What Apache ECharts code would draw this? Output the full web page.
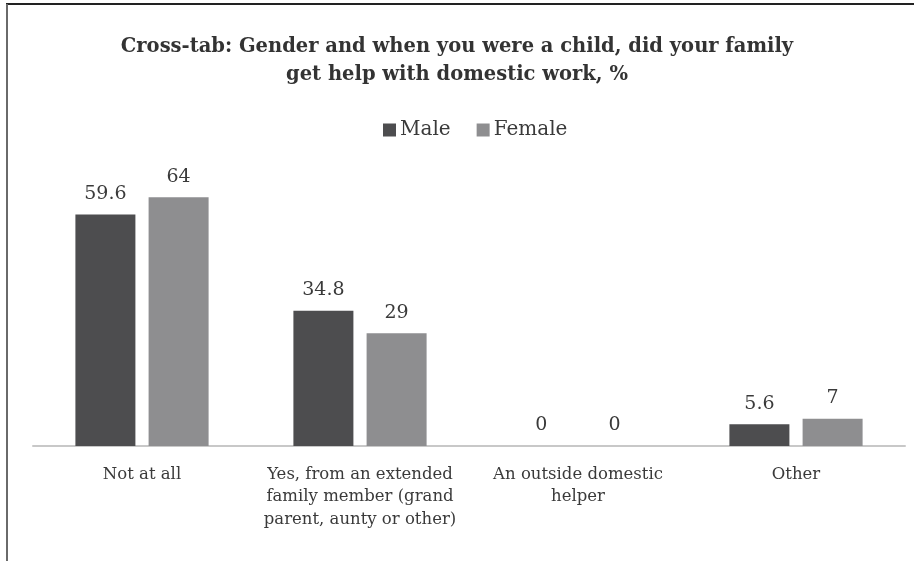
<!DOCTYPE html>
<html>
<head>
<meta charset="utf-8">
<script src="https://cdn.jsdelivr.net/npm/echarts@6/dist/echarts.min.js"></script>
<style>
  html, body { margin: 0; padding: 0; background: #ffffff; }
  #chart { width: 914px; height: 561px; }
</style>
</head>
<body>
<div id="chart"></div>
<script>
// Survey answers, one per category on the x axis
const categories = [
  'Not at all',
  'Yes, from an extended\nfamily member (grand\nparent, aunty or other)',
  'An outside domestic\nhelper',
  'Other'
];
// Percent of respondents by gender
const maleValues = [59.6, 34.8, 0, 5.6];
const femaleValues = [64, 29, 0, 7];
const seriesNames = ['Male', 'Female'];

const serif = '"DejaVu Serif", "Liberation Serif", serif';
const textColor = '#3a3a3a';

const chart = echarts.init(document.getElementById('chart'));

const labelStyle = {
  show: true,
  position: 'top',
  distance: 11,
  fontFamily: serif,
  fontSize: 19,
  color: textColor
};

chart.setOption({
  backgroundColor: '#ffffff',
  animation: false,
  title: {
    text: 'Cross-tab: Gender and when you were a child, did your family\nget help with domestic work, %',
    left: 'center',
    top: 28,
    textStyle: {
      fontFamily: serif,
      fontWeight: 'bold',
      fontSize: 19.5,
      lineHeight: 28,
      color: '#333333'
    }
  },
  legend: {
    data: seriesNames,
    top: 115,
    left: 378,
    itemWidth: 13,
    itemHeight: 13,
    itemGap: 26,
    icon: 'rect',
    textStyle: {
      fontFamily: serif,
      fontSize: 20,
      color: textColor,
      padding: [0, 0, 0, -1]
    }
  },
  grid: {
    left: 33,
    right: 9,
    top: 174,
    bottom: 115,
    containLabel: false
  },
  xAxis: {
    type: 'category',
    data: categories,
    axisLine: { lineStyle: { color: '#c8c8c8', width: 2 } },
    axisTick: { show: false },
    axisLabel: {
      interval: 0,
      margin: 17,
      fontFamily: serif,
      fontSize: 16.5,
      lineHeight: 22.5,
      color: textColor
    }
  },
  yAxis: {
    type: 'value',
    min: 0,
    max: 70,
    show: false,
    splitLine: { show: false }
  },
  series: [
    {
      name: seriesNames[0],
      type: 'bar',
      data: maleValues,
      barWidth: 60,
      barGap: '22%',
      itemStyle: { color: '#4d4d4f' },
      label: labelStyle
    },
    {
      name: seriesNames[1],
      type: 'bar',
      data: femaleValues,
      barWidth: 60,
      barGap: '22%',
      itemStyle: { color: '#8e8e90' },
      label: labelStyle
    }
  ],
  graphic: [
    // frame edges along the top and left
    {
      type: 'line',
      shape: { x1: 6, y1: 4, x2: 914, y2: 4 },
      style: { stroke: '#222222', lineWidth: 2 }
    },
    {
      type: 'line',
      shape: { x1: 7, y1: 4, x2: 7, y2: 561 },
      style: { stroke: '#6a6a6a', lineWidth: 2 }
    }
  ]
});
</script>
</body>
</html>
